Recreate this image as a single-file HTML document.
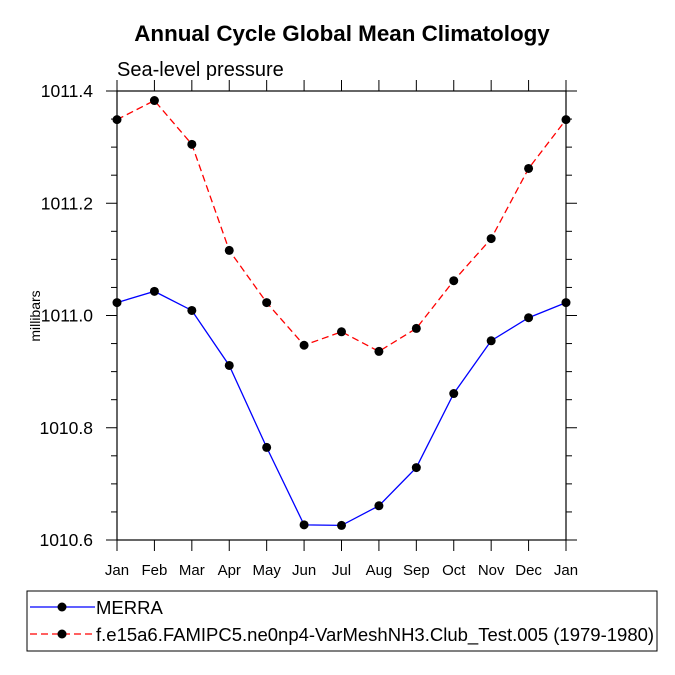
<!DOCTYPE html>
<html><head><meta charset="utf-8"><style>body{margin:0;background:#fff}svg{display:block;font-family:"Liberation Sans",Helvetica,sans-serif}</style></head>
<body>
<svg id="c" width="675" height="675" viewBox="0 0 675 675">
<text x="342" y="41" text-anchor="middle" font-size="22.4" font-weight="bold">Annual Cycle Global Mean Climatology</text>
<text x="117" y="76" font-size="20">Sea-level pressure</text>
<text transform="translate(40,316) rotate(-90)" text-anchor="middle" font-size="14">millibars</text>
<g id="plot"></g>
<g>
<rect x="27" y="591" width="630" height="60" fill="none" stroke="#000" stroke-width="1"/>
<g>
<line x1="30" y1="607" x2="95" y2="607" stroke="#0000ff" stroke-width="1.3"/><circle cx="62" cy="607" r="4.5"/>
<text x="96" y="614" font-size="18.5">MERRA</text></g>
<g>
<line x1="30" y1="634" x2="95" y2="634" stroke="#ff0000" stroke-width="1.3" stroke-dasharray="7,4"/><circle cx="62" cy="634" r="4.5"/>
<text x="96" y="641" font-size="18.5">f.e15a6.FAMIPC5.ne0np4-VarMeshNH3.Club_Test.005 (1979-1980)</text></g>
</g>
</svg>
<script>
const months=["Jan","Feb","Mar","Apr","May","Jun","Jul","Aug","Sep","Oct","Nov","Dec","Jan"];
const merra=[1011.023,1011.043,1011.009,1010.911,1010.765,1010.627,1010.626,1010.661,1010.729,1010.861,1010.955,1010.996,1011.023];
const testRun=[1011.349,1011.383,1011.305,1011.116,1011.023,1010.947,1010.971,1010.936,1010.977,1011.062,1011.137,1011.262,1011.349];
const yTicks=["1010.6","1010.8","1011.0","1011.2","1011.4"];
const X0=117,X1=566,Y0=91,Y1=540,ymin=1010.6,ymax=1011.4;
const NS="http://www.w3.org/2000/svg";
const xs=i=>X0+(X1-X0)*i/(months.length-1);
const ys=v=>Y1-(v-ymin)/(ymax-ymin)*(Y1-Y0);
const g=document.getElementById('plot');
function mk(t,a,p){const e=document.createElementNS(NS,t);for(const k in a)e.setAttribute(k,a[k]);(p||g).appendChild(e);return e;}
const frame=mk('rect',{x:X0,y:Y0,width:X1-X0,height:Y1-Y0,fill:'none',stroke:'#000','stroke-width':1.2});


months.forEach((m,i)=>{const x=xs(i);
mk('line',{x1:x,y1:Y1,x2:x,y2:Y1+11,stroke:'#000'});mk('line',{x1:x,y1:Y0,x2:x,y2:Y0-11,stroke:'#000'});
const t=mk('text',{x:x,y:Y1+35,'text-anchor':'middle','font-size':15});t.textContent=m;

});
for(let v=ymin;v<=ymax+1e-9;v+=0.05){const y=ys(v);const major=Math.abs(Math.round(v*5)-v*5)<1e-6;const L=major?11:6;
mk('line',{x1:X0,y1:y,x2:X0-L,y2:y,stroke:'#000'});mk('line',{x1:X1,y1:y,x2:X1+L,y2:y,stroke:'#000'});}
yTicks.forEach(s=>{const t=mk('text',{x:X0-24,y:ys(parseFloat(s))+6,'text-anchor':'end','font-size':17.5});t.textContent=s;

});
function series(d,col,dash,name){const grp=mk('g',{});


const a={points:d.map((v,i)=>xs(i)+','+ys(v)).join(' '),fill:'none',stroke:col,'stroke-width':1.3};if(dash)a['stroke-dasharray']='7,4';
mk('polyline',a,grp);
d.forEach((v,i)=>{const c=mk('circle',{cx:xs(i),cy:ys(v),r:4.5,fill:'#000'},grp);

});}
series(merra,'#0000ff',false,'merra-series');
series(testRun,'#ff0000',true,'test-series');
</script>
</body></html>
